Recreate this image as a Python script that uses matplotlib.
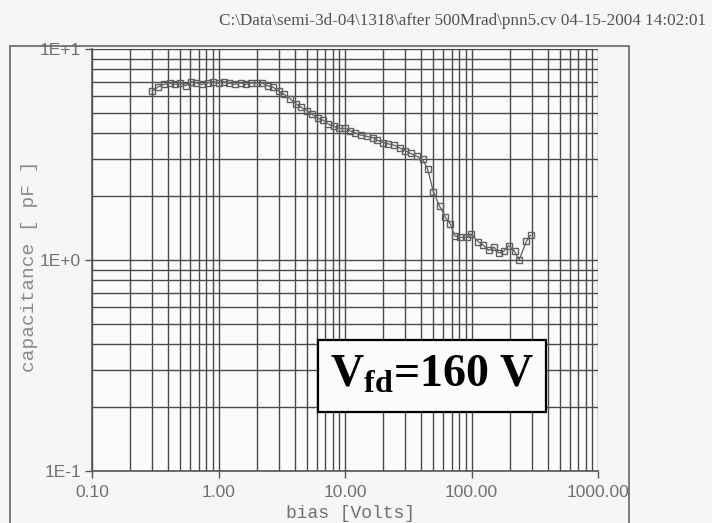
import matplotlib
matplotlib.use("Agg")
import matplotlib.pyplot as plt
from matplotlib.patches import Rectangle
from matplotlib.ticker import LogLocator, FixedLocator, NullFormatter
from matplotlib import font_manager

# ---- data ----
bias_V = [0.30, 0.33, 0.37, 0.41, 0.45, 0.50, 0.55, 0.61, 0.67, 0.74, 0.82, 0.90,
          1.0, 1.1, 1.2, 1.35, 1.5, 1.65, 1.8, 2.0, 2.2, 2.45, 2.7, 3.0, 3.3, 3.7,
          4.1, 4.5, 5.0, 5.5, 6.1, 6.7, 7.4, 8.2, 9.0, 10, 11, 12, 13.5, 15, 16.5,
          18, 20, 22, 24.5, 27, 30, 33, 37, 41, 45, 50, 56, 62, 68, 74, 81, 92, 99,
          113, 123, 137, 151, 164, 180, 197, 219, 238, 272, 293]
cap_pF = [6.3, 6.6, 6.8, 6.9, 6.8, 6.9, 6.7, 7.0, 6.9, 6.8, 6.9, 7.0,
          6.9, 7.0, 6.9, 6.8, 6.9, 6.8, 6.9, 6.9, 6.9, 6.7, 6.6, 6.3, 6.1, 5.8,
          5.5, 5.3, 5.1, 4.9, 4.7, 4.6, 4.4, 4.3, 4.2, 4.2, 4.1, 4.0, 3.9, 3.85, 3.8,
          3.7, 3.6, 3.55, 3.5, 3.4, 3.3, 3.2, 3.1, 3.0, 2.7, 2.1, 1.8, 1.6, 1.48, 1.3, 1.28, 1.28, 1.33,
          1.22, 1.18, 1.11, 1.15, 1.08, 1.1, 1.17, 1.1, 1.0, 1.23, 1.31]
x_ticks = [0.1, 1, 10, 100, 1000]
x_tick_labels = ["0.10", "1.00", "10.00", "100.00", "1000.00"]
y_ticks = [0.1, 1, 10]
y_tick_labels = ["1E-1", "1E+0", "1E+1"]
title_text = "C:\\Data\\semi-3d-04\\1318\\after 500Mrad\\pnn5.cv 04-15-2004 14:02:01"
annotation = r"$\mathbf{V_{fd}}$=160 V"

plt.rcParams['mathtext.fontset'] = 'custom'
plt.rcParams['mathtext.bf'] = 'Liberation Serif:bold'
plt.rcParams['mathtext.rm'] = 'Liberation Serif'

installed = {f.name for f in font_manager.fontManager.ttflist}
tick_family = 'Liberation Sans Narrow' if 'Liberation Sans Narrow' in installed else 'Liberation Sans'

W, H = 712, 523
fig = plt.figure(figsize=(W / 100, H / 100), dpi=100, facecolor='#f6f6f6')

def fx(px):
    return px / W

def fy(py):
    return 1 - py / H

ax = fig.add_axes([fx(92), fy(471), fx(598) - fx(92), fy(49) - fy(471)])
ax.set_facecolor('#fbfbfb')
ax.set_xscale('log')
ax.set_yscale('log')
ax.set_xlim(0.1, 1000)
ax.set_ylim(0.1, 10)

grid_col = '#4a4a4a'
ax.xaxis.set_major_locator(FixedLocator(x_ticks))
ax.yaxis.set_major_locator(FixedLocator(y_ticks))
ax.xaxis.set_minor_locator(LogLocator(base=10, subs=range(2, 10)))
ax.yaxis.set_minor_locator(LogLocator(base=10, subs=range(2, 10)))
ax.xaxis.set_minor_formatter(NullFormatter())
ax.yaxis.set_minor_formatter(NullFormatter())
ax.set_xticklabels(x_tick_labels)
ax.set_yticklabels(y_tick_labels)
ax.grid(True, which='both', color=grid_col, lw=1.0)
ax.set_axisbelow(True)
ax.tick_params(which='minor', length=0)
ax.tick_params(which='major', length=5, width=1, color='#555555',
               labelcolor='#707070', labelsize=12.5)
ax.tick_params(axis='x', which='major', pad=5)
ax.tick_params(axis='y', which='major', pad=3)
for lab in ax.get_xticklabels() + ax.get_yticklabels():
    lab.set_family(tick_family)
for s in ax.spines.values():
    s.set_color('#555555')
    s.set_linewidth(1.2)
ax.spines['top'].set_visible(False)
ax.spines['right'].set_visible(False)

ax.plot(bias_V, cap_pF, color='#6a6a6a', lw=1.0, marker='s', markersize=5,
        markerfacecolor='none', markeredgecolor='#606060', markeredgewidth=1.0)

# outer frame of the plot window
fig.patches.append(Rectangle((fx(10), fy(560)), fx(629) - fx(10), fy(46) - fy(560),
                             transform=fig.transFigure, fill=False,
                             edgecolor='#666666', lw=1.2, clip_on=False))

fig.text(fx(463), fy(21), title_text, ha='center', va='center',
         family='Liberation Serif', fontsize=12.3, color='#505050')

fig.text(fx(30), fy(266), "capacitance [ pF ]", rotation=90, ha='center', va='center',
         family='Liberation Mono', fontsize=14, color='#8a8a8a')
fig.text(fx(350), fy(522), "bias [Volts]", ha='center', va='bottom',
         family='Liberation Mono', fontsize=13, color='#707070')

# annotation box
fig.patches.append(Rectangle((fx(318), fy(412)), fx(546) - fx(318), fy(340) - fy(412),
                             transform=fig.transFigure, fill=True, facecolor='#fbfbfb',
                             edgecolor='black', lw=1.6, zorder=5))
fig.text(fx(432), fy(376), annotation, ha='center', va='center',
         family='Liberation Serif', fontweight='bold', fontsize=33, color='black',
         zorder=6)

fig.savefig('out.png', dpi=100, facecolor=fig.get_facecolor())
